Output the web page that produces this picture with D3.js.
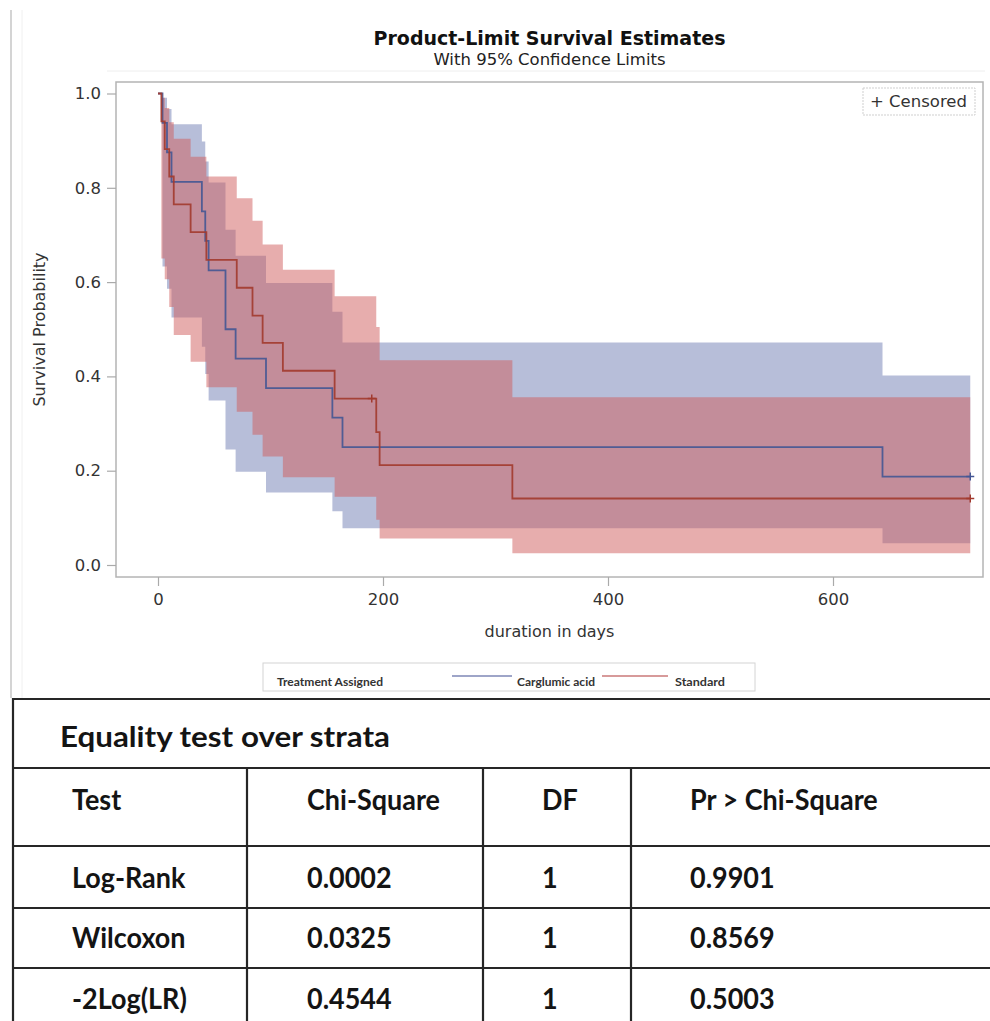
<!DOCTYPE html>
<html><head><meta charset="utf-8">
<script src="https://cdn.jsdelivr.net/npm/d3@7"></script>
<style>body{margin:0;background:#fff} svg{display:block}</style>
</head><body><svg id="c" width="990" height="1021"></svg>
<script>
// ---- data ----
const seriesNames = ["Carglumic acid", "Standard"];
const carglumicTime  = [0, 4, 8, 12, 39, 42, 45, 60, 69, 96, 155, 164, 644, 722];
const carglumicSurv  = [1, 0.9375, 0.875, 0.8125, 0.75, 0.6875, 0.625, 0.5, 0.4375, 0.375, 0.3125, 0.25, 0.1875, 0.1875];
const carglumicLower = [1, 0.633, 0.586, 0.525, 0.463, 0.405, 0.349, 0.245, 0.198, 0.154, 0.114, 0.078, 0.046, 0.046];
const carglumicUpper = [1, 0.991, 0.967, 0.935, 0.898, 0.856, 0.811, 0.711, 0.656, 0.598, 0.537, 0.472, 0.402, 0.402];
const carglumicCensorTime = [722];
const carglumicCensorSurv = [0.1875];

const standardTime  = [0, 3, 6, 10, 14, 29, 43, 70, 84, 93, 111, 157, 194, 197, 315, 722];
const standardSurv  = [1, 0.941, 0.882, 0.824, 0.765, 0.706, 0.647, 0.588, 0.529, 0.471, 0.412, 0.353, 0.282, 0.212, 0.141, 0.141];
const standardLower = [1, 0.650, 0.606, 0.547, 0.488, 0.431, 0.377, 0.325, 0.276, 0.230, 0.186, 0.145, 0.096, 0.056, 0.025, 0.025];
const standardUpper = [1, 0.991, 0.969, 0.939, 0.904, 0.866, 0.824, 0.778, 0.730, 0.680, 0.626, 0.570, 0.505, 0.434, 0.356, 0.356];
const standardCensorTime = [190, 722];
const standardCensorSurv = [0.353, 0.141];

const xTicks = [0, 200, 400, 600];
const yTicks = [0, 0.2, 0.4, 0.6, 0.8, 1.0];

const tableTitle = "Equality test over strata";
const tableHeader = ["Test", "Chi-Square", "DF", "Pr > Chi-Square"];
const testNames = ["Log-Rank", "Wilcoxon", "-2Log(LR)"];
const chiSquare = ["0.0002", "0.0325", "0.4544"];
const dfValues = ["1", "1", "1"];
const pValues = ["0.9901", "0.8569", "0.5003"];

// ---- drawing ----
const svg = d3.select("#c");
const F = "'DejaVu Sans', sans-serif";
const frame = {l: 116, t: 82, r: 983, b: 577};
const x = d3.scaleLinear().domain([0, 600]).range([158, 833]);
const y = d3.scaleLinear().domain([0, 1]).range([565, 93.5]);

const colors = {
  fill: ["#6F7EB3", "#D05B5B"],
  line: ["#445694", "#A23A2E"],
  legend: ["#9ea5c8", "#d79a9a"]
};

// outer decorations
svg.append("line").attr("x1", 11).attr("x2", 11).attr("y1", 10).attr("y2", 698)
  .attr("stroke", "#c6c6c6").attr("stroke-width", 1.5);
svg.append("line").attr("x1", 22).attr("x2", 22).attr("y1", 10).attr("y2", 698)
  .attr("stroke", "#f0f0f0").attr("stroke-width", 1);
svg.append("line").attr("x1", 107).attr("x2", 985).attr("y1", 71).attr("y2", 71)
  .attr("stroke", "#eeeeee").attr("stroke-width", 1);

// titles
svg.append("text").attr("x", 549.5).attr("y", 45).attr("text-anchor", "middle")
  .attr("font-family", F).attr("font-weight", "bold").attr("font-size", 19).attr("fill", "#111")
  .text("Product-Limit Survival Estimates");
svg.append("text").attr("x", 549.5).attr("y", 65).attr("text-anchor", "middle")
  .attr("font-family", F).attr("font-size", 16.5).attr("fill", "#222")
  .text("With 95% Confidence Limits");

// bands
const bands = [
  {t: carglumicTime, lo: carglumicLower, hi: carglumicUpper, s: carglumicSurv, ct: carglumicCensorTime, cs: carglumicCensorSurv},
  {t: standardTime, lo: standardLower, hi: standardUpper, s: standardSurv, ct: standardCensorTime, cs: standardCensorSurv}
];
const area = d3.area().curve(d3.curveStepAfter)
  .x(d => x(d.t)).y0(d => y(d.lo)).y1(d => y(d.hi));
const line = d3.line().curve(d3.curveStepAfter).x(d => x(d.t)).y(d => y(d.s));

const plot = svg.append("g");
bands.forEach((b, i) => {
  const pts = b.t.map((t, k) => ({t, lo: b.lo[k], hi: b.hi[k], s: b.s[k]}));
  plot.append("path").attr("d", area(pts)).attr("fill", colors.fill[i]).attr("fill-opacity", 0.5);
});
bands.forEach((b, i) => {
  const pts = b.t.map((t, k) => ({t, s: b.s[k]}));
  plot.append("path").attr("d", line(pts)).attr("fill", "none")
    .attr("stroke", colors.line[i]).attr("stroke-width", 1.8).attr("stroke-opacity", 0.9);
  b.ct.forEach((t, k) => {
    const cx = x(t), cy = y(b.cs[k]);
    plot.append("path").attr("d", `M${cx-4},${cy}H${cx+4}M${cx},${cy-4}V${cy+4}`)
      .attr("stroke", colors.line[i]).attr("stroke-width", 1.5).attr("fill", "none");
  });
});

// frame
svg.append("rect").attr("x", frame.l).attr("y", frame.t)
  .attr("width", frame.r - frame.l).attr("height", frame.b - frame.t)
  .attr("fill", "none").attr("stroke", "#b4b4b4").attr("stroke-width", 1.5);

// axes
const yAxis = svg.append("g").attr("transform", `translate(${frame.l},0)`)
  .call(d3.axisLeft(y).tickValues(yTicks).tickFormat(d3.format(".1f")).tickSize(9).tickPadding(6));
const xAxis = svg.append("g").attr("transform", `translate(0,${frame.b})`)
  .call(d3.axisBottom(x).tickValues(xTicks).tickFormat(d3.format("d")).tickSize(9).tickPadding(7));
[yAxis, xAxis].forEach(g => {
  g.select(".domain").remove();
  g.selectAll(".tick line").attr("stroke", "#aaa").attr("stroke-width", 1.2);
  g.selectAll(".tick text").attr("font-family", F).attr("font-size", 16.5).attr("fill", "#333");
});

svg.append("text").attr("transform", "translate(45,329.5) rotate(-90)").attr("text-anchor", "middle")
  .attr("font-family", F).attr("font-size", 16).attr("fill", "#333").text("Survival Probability");
svg.append("text").attr("x", 549.5).attr("y", 637).attr("text-anchor", "middle")
  .attr("font-family", F).attr("font-size", 16).attr("fill", "#333").text("duration in days");

// censored legend
svg.append("rect").attr("x", 863).attr("y", 88).attr("width", 112).attr("height", 27)
  .attr("fill", "#fff").attr("stroke", "#cfcfcf").attr("stroke-width", 1).attr("stroke-dasharray", "2,1");
svg.append("text").attr("x", 870).attr("y", 107).attr("font-family", F).attr("font-size", 16.5)
  .attr("fill", "#333").attr("xml:space", "preserve").text("+ Censored");

// treatment legend
const LF = "Lato, 'Open Sans', sans-serif";
svg.append("rect").attr("x", 263).attr("y", 663).attr("width", 492).attr("height", 28)
  .attr("fill", "#fff").attr("stroke", "#d4d4d4").attr("stroke-width", 1);
svg.append("text").attr("x", 277).attr("y", 686).attr("font-family", LF).attr("font-weight", "bold")
  .attr("font-size", 12).attr("fill", "#333").attr("textLength", 106).attr("lengthAdjust", "spacingAndGlyphs")
  .text("Treatment Assigned");
const legItems = [
  {x1: 452, x2: 512, tx: 517, w: 78},
  {x1: 602, x2: 668, tx: 675, w: 50}
];
seriesNames.forEach((n, i) => {
  const it = legItems[i];
  svg.append("line").attr("x1", it.x1).attr("x2", it.x2).attr("y1", 676).attr("y2", 676)
    .attr("stroke", colors.legend[i]).attr("stroke-width", 2);
  svg.append("text").attr("x", it.tx).attr("y", 686).attr("font-family", LF).attr("font-weight", "bold")
    .attr("font-size", 12).attr("fill", "#333").attr("textLength", it.w).attr("lengthAdjust", "spacingAndGlyphs")
    .text(n);
});

// table
const TC = "#262626";
const hLines = [699, 768, 846, 908, 968];
hLines.forEach(yy => svg.append("line").attr("x1", 12).attr("x2", 990).attr("y1", yy).attr("y2", yy)
  .attr("stroke", TC).attr("stroke-width", 2.2));
svg.append("line").attr("x1", 13).attr("x2", 13).attr("y1", 698).attr("y2", 1021).attr("stroke", TC).attr("stroke-width", 2.2);
[247, 483, 631].forEach(xx => svg.append("line").attr("x1", xx).attr("x2", xx).attr("y1", 768).attr("y2", 1021)
  .attr("stroke", TC).attr("stroke-width", 2.2));

const TF = "Lato, 'Open Sans', sans-serif";
const tg = svg.append("g");
function ttext(str, tx, ty) {
  return tg.append("text").attr("data-x", tx).attr("data-y", ty)
    .attr("font-family", TF).attr("font-weight", "bold").attr("font-size", 29).attr("fill", "#141414").text(str);
}
const colX = [72, 307, 542, 690];
const rowY = [888, 948, 1009];
const titleNode = ttext(tableTitle, 60, 747).node();
tableHeader.forEach((h, i) => ttext(h, colX[i], 810));
const ref = tg.selectAll("text").filter(function() { return this.textContent === "Chi-Square"; }).node();
testNames.forEach((n, r) => {
  ttext(n, colX[0], rowY[r]);
  ttext(chiSquare[r], colX[1], rowY[r]);
  ttext(dfValues[r], colX[2], rowY[r]);
  ttext(pValues[r], colX[3], rowY[r]);
});
const sx = 133 / ref.getComputedTextLength();
const sxTitle = 330 / titleNode.getComputedTextLength();
tg.selectAll("text").attr("transform", function() {
  const s = (this === titleNode) ? sxTitle : sx;
  return `translate(${this.getAttribute("data-x")},${this.getAttribute("data-y")}) scale(${s},1)`;
});
</script></body></html>
